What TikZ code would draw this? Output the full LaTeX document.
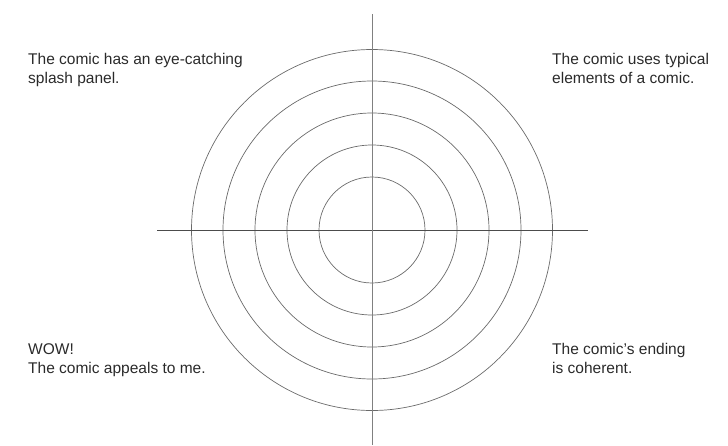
\documentclass[tikz,border=0pt]{standalone}
\usepackage{fontspec}
\setmainfont{Liberation Sans}
\definecolor{inkgray}{HTML}{2A2A2A}
\definecolor{ringgray}{HTML}{6A6A6A}
\tikzset{
  ring/.style={draw=ringgray, line width=0.7pt},
  axisline/.style={draw=#1, line width=0.9pt},
  statement/.style={inner sep=0pt, align=left, anchor=north west, text=inkgray,
    font=\fontsize{15.5}{19.5}\selectfont}
}
\begin{document}
\begin{tikzpicture}[x=1pt, y=-1pt]
\useasboundingbox (0,0) rectangle (728,445);
% Zielscheibe
\coordinate (o) at (372,230);
\coordinate (l) at (157,230);
\coordinate (r) at (588,230);
\coordinate (t) at (372,14);
\coordinate (b) at (372,445);
\foreach \r in {53,85,117,149,180.5}
  \draw[ring] (o) circle[radius=\r pt];
\draw[axisline=black!70] (l) -- (r);
\draw[axisline=black!50] (t) -- (b);
% Aussagen in den Ecken
\node[statement] (splash) at (28,53) {The comic has an eye-catching\\splash panel.};
\node[statement] (typical) at (552,53) {The comic uses typical\\elements of a comic.};
\node[statement] (wow) at (28,343) {WOW!\\The comic appeals to me.};
\node[statement] (ending) at (552,343) {The comic's ending\\is coherent.};
\end{tikzpicture}
\end{document}
